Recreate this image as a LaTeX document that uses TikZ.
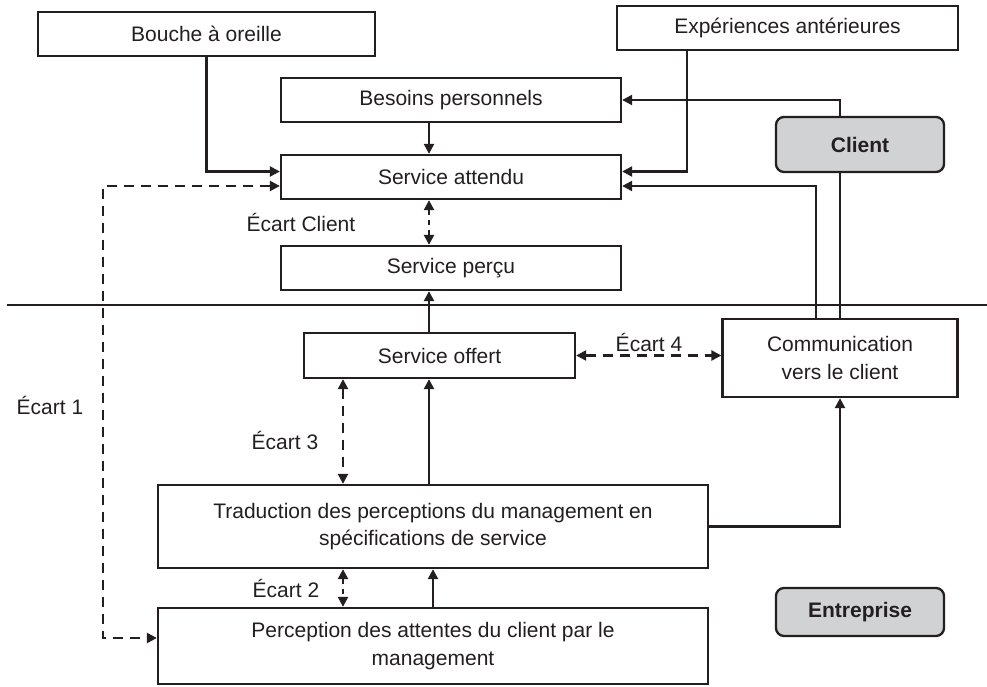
\documentclass[tikz,border=0pt]{standalone}
\usepackage{fontspec}
\setmainfont{Liberation Sans}
\usetikzlibrary{arrows.meta}
\definecolor{ink}{RGB}{35,31,32}
\definecolor{boxgray}{RGB}{209,210,212}
\begin{document}
\begin{tikzpicture}[x=1pt,y=-1pt,
  every node/.style={font=\fontsize{21}{27.5}\selectfont, text=ink},
  box/.style={draw=ink, line width=2.3pt, fill=white, inner sep=0pt, align=center},
  rbox/.style={box, fill=boxgray, rounded corners=8pt, font=\fontsize{21}{27.5}\selectfont\bfseries},
  conn/.style={draw=ink, line width=2.3pt},
  arr/.style={conn, -{Triangle[length=10pt,width=10pt]}},
  darr/.style={conn, {Triangle[length=10pt,width=10pt]}-{Triangle[length=10pt,width=10pt]}, dash pattern=on 10pt off 7pt},
  sdarr/.style={conn, {Triangle[length=10pt,width=10pt]}-{Triangle[length=10pt,width=10pt]}, dash pattern=on 5pt off 5pt},
  lbl/.style={inner sep=0pt}
]
\useasboundingbox (0,0) rectangle (987,687);

% boxes
\node[box, minimum width=337pt, minimum height=44pt] (bouche) at (206.5,34) {Bouche à oreille};
\node[box, minimum width=341pt, minimum height=44pt] (exper) at (787.5,28) {Expériences antérieures};
\node[box, minimum width=340pt, minimum height=44pt] (besoins) at (451,100) {Besoins personnels};
\node[box, minimum width=340pt, minimum height=44pt] (attendu) at (451,177) {Service attendu};
\node[box, minimum width=340pt, minimum height=44pt] (percu) at (451,268) {Service perçu};
\node[box, minimum width=271pt, minimum height=45pt] (offert) at (439.5,355.5) {Service offert};
\node[box, minimum width=235pt, minimum height=78pt] (comm) at (840,358) {Communication\\vers le client};
\node[box, minimum width=550pt, minimum height=83pt] (trad) at (433,526.5) {Traduction des perceptions du management en\\spécifications de service};
\node[box, minimum width=550pt, minimum height=76pt] (perc) at (433,646) {Perception des attentes du client par le\\management};
\node[rbox, minimum width=168pt, minimum height=55pt] (client) at (860,144.5) {Client};
\node[rbox, minimum width=168pt, minimum height=48pt] (entreprise) at (860,612) {Entreprise};

% labels
\node[lbl] (lclient) at (301,222) {Écart Client};
\node[lbl] (l1) at (50,405) {Écart 1};
\node[lbl] (l3) at (285,440) {Écart 3};
\node[lbl] (l2) at (286,588) {Écart 2};
\node[lbl] (l4) at (649,342) {Écart 4};

% helper columns
\coordinate (cx) at (429,0);
\coordinate (cx2) at (433,0);
\coordinate (gx) at (343,0);
\coordinate (e1x) at (103,0);
\coordinate (sepL) at (7,305);
\coordinate (sepR) at (987,305);

% separator
\draw[conn] (sepL) -- (sepR);

% connectors
\draw[arr] (bouche.south) |- ([yshift=5.5pt]attendu.west);
\draw[arr] ([xshift=-100.5pt]exper.south) |- ([yshift=5.5pt]attendu.east);
\draw[arr] ([xshift=-20pt]client.north) |- (besoins.east);
\draw[conn] ([xshift=-20pt]client.south) -- (comm.north);
\draw[arr] ([xshift=-24pt]comm.north) |- ([yshift=-9pt]attendu.east);
\draw[arr] (cx |- besoins.south) -- (cx |- attendu.north);
\draw[sdarr] (cx |- attendu.south) -- (cx |- percu.north);
\draw[arr] (cx |- offert.north) -- (cx |- percu.south);
\draw[arr] (cx |- trad.north) -- (cx |- offert.south);
\draw[arr] (cx2 |- perc.north) -- (cx2 |- trad.south);
\draw[darr] (gx |- offert.south) -- (gx |- trad.north);
\draw[sdarr] (gx |- trad.south) -- (gx |- perc.north);
\draw[arr] (trad.east) -| (comm.south);
\draw[darr] (offert.east) -- (offert.east -| comm.west);
\draw[darr] ([yshift=-9pt]attendu.west) -- ([yshift=-9pt]attendu.west -| e1x) -- ([yshift=8pt]perc.west -| e1x) -- ([yshift=8pt]perc.west);
\end{tikzpicture}
\end{document}
